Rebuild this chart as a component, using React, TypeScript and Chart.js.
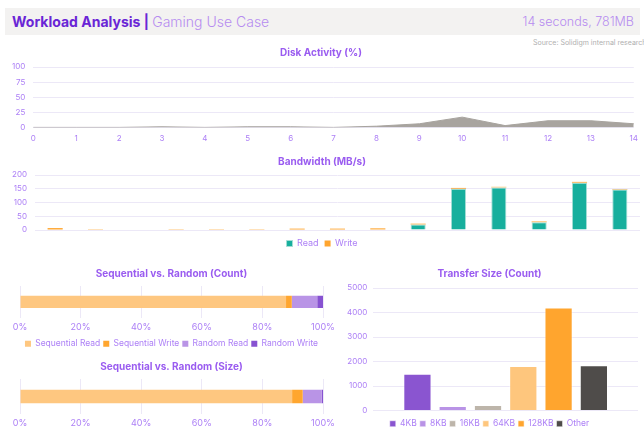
import React, { useEffect, useRef } from 'react';
import { Chart, registerables } from 'chart.js';
Chart.register(...registerables);

const FONT = 'Inter, "Noto Sans", sans-serif';
const TICK = '#ad80f6';
const TITLE = '#9a5cf0';
const GRID = '#ece8f7';

const seconds = ['0', '1', '2', '3', '4', '5', '6', '7', '8', '9', '10', '11', '12', '13', '14'];
const diskActivity = [0, 0, 0, 1, 0, 1, 1, 0, 2, 6, 17, 3, 11, 11, 6];
const bwRead = [0, 0, 0, 0, 0, 0, 0, 0, 2, 20, 150, 155, 28, 172, 147];
const bwWrite = [7, 3, 0, 3, 3, 3, 5, 5, 4, 3, 3, 2, 3, 3, 2];
const seqLabels = ['Sequential Read', 'Sequential Write', 'Random Read', 'Random Write'];
const seqCount = [87.8, 1.9, 8.4, 1.9];
const seqSize = [89.8, 3.5, 6.3, 0.4];
const seqColors = ['#fec780', '#ffa62f', '#b994e6', '#8752d1'];
const sizeLabels = ['4KB', '8KB', '16KB', '64KB', '128KB', 'Other'];
const sizeCounts = [1500, 180, 220, 1820, 4200, 1850];
const sizeColors = ['#8a55d0', '#b993e6', '#bdb5aa', '#fec67d', '#ffa52e', '#4f4c4a'];

const tickFont = { family: FONT, size: 8 };
const titleFont = { family: FONT, size: 10, weight: 'bold' as const };

function ChartBox({ left, top, width, height, make }: any) {
  const ref = useRef<HTMLCanvasElement>(null);
  useEffect(() => {
    const c = new Chart(ref.current as HTMLCanvasElement, make());
    return () => c.destroy();
  }, []);
  return (
    <div style={{ position: 'absolute', left, top, width, height }}>
      <canvas ref={ref} width={width} height={height} style={{ display: 'block' }} />
    </div>
  );
}

const baseOpts = (title: string, legend: boolean, padding: any, titlePad: number, legendFont = 9, legendPad = 6) => ({
  responsive: false,
  animation: false,
  devicePixelRatio: 1,
  layout: { padding },
  plugins: {
    tooltip: { enabled: false },
    legend: {
      display: legend, position: 'bottom',
      labels: { boxWidth: 6, boxHeight: 6, font: { family: FONT, size: legendFont }, color: TICK, padding: legendPad },
    },
    title: { display: true, text: title, color: TITLE, font: titleFont, padding: { top: 0, bottom: titlePad } },
  },
});

const diskConfig = (): any => ({
  type: 'line',
  data: {
    labels: seconds,
    datasets: [{
      data: diskActivity, fill: 'origin', backgroundColor: '#a8a49f', borderColor: '#a8a49f',
      borderWidth: 1, pointRadius: 0, tension: 0,
    }],
  },
  options: {
    ...baseOpts('Disk Activity (%)', false, { left: 4, right: 6, top: 2, bottom: 0 }, 8),
    scales: {
      x: { grid: { display: false, drawTicks: false }, border: { display: false },
        ticks: { color: TICK, font: tickFont, padding: 6, maxRotation: 0, autoSkip: false } },
      y: { min: 0, max: 100, grid: { color: GRID, drawTicks: false }, border: { display: false },
        ticks: { stepSize: 25, color: TICK, font: tickFont, padding: 8 } },
    },
  },
});

const bwConfig = (): any => ({
  type: 'bar',
  data: {
    labels: seconds,
    datasets: [
      { label: 'Read', data: bwRead, backgroundColor: '#17af9d', borderColor: '#a5ded5', borderWidth: 1, barPercentage: 0.5, categoryPercentage: 0.75 },
      { label: 'Write', data: bwWrite, backgroundColor: '#ffa52e', borderWidth: 0, barPercentage: 0.5, categoryPercentage: 0.75 },
    ],
  },
  options: {
    ...baseOpts('Bandwidth (MB/s)', true, { left: 4, right: 4, top: 2, bottom: 0 }, 7),
    scales: {
      x: { stacked: true, grid: { display: false, drawTicks: false }, border: { display: false }, ticks: { display: false },
        afterFit: (s: any) => { s.height = 3; } },
      y: { stacked: true, min: 0, max: 200, grid: { color: GRID, drawTicks: false }, border: { display: false },
        ticks: { stepSize: 50, color: TICK, font: tickFont, padding: 8 } },
    },
  },
});

const seqConfig = (title: string, values: number[], legend: boolean) => (): any => ({
  type: 'bar',
  data: {
    labels: [''],
    datasets: seqLabels.map((l, i) => ({
      label: l, data: [values[i]], backgroundColor: seqColors[i], borderWidth: 0,
      barPercentage: 0.45, categoryPercentage: 0.85,
    })),
  },
  options: {
    ...baseOpts(title, legend, { left: 20, right: 17, top: 2, bottom: 0 }, 6, 8.5, 3),
    indexAxis: 'y',
    scales: {
      x: { stacked: true, min: 0, max: 100, grid: { color: GRID, drawTicks: false }, border: { display: false },
        ticks: { stepSize: 20, color: TICK, font: { family: FONT, size: 9 }, padding: 4, callback: (v: any) => v + '%' } },
      y: { stacked: true, display: false },
    },
  },
});

const sizeConfig = (): any => ({
  type: 'bar',
  data: {
    labels: [''],
    datasets: sizeLabels.map((l, i) => ({
      label: l, data: [sizeCounts[i]], backgroundColor: sizeColors[i], borderColor: 'rgba(255,255,255,0.5)', borderWidth: 1,
      barPercentage: 0.8, categoryPercentage: 0.8,
    })),
  },
  options: {
    ...baseOpts('Transfer Size (Count)', true, { left: 11, right: 6, top: 2, bottom: 0 }, 8, 8.5, 3),
    scales: {
      x: { grid: { display: false, drawTicks: false }, border: { display: false }, ticks: { display: false },
        afterFit: (s: any) => { s.height = 6; } },
      y: { min: 0, max: 5000, grid: { color: GRID, drawTicks: false }, border: { display: false },
        ticks: { stepSize: 1000, color: TICK, font: tickFont, padding: 6, callback: (v: any) => String(v) } },
    },
  },
});

export default function App() {
  return (
    <div style={{ position: 'absolute', left: 0, top: 0, width: 644, height: 435, overflow: 'hidden', background: '#fff', fontFamily: FONT }}>
      <div style={{ position: 'absolute', left: 5, top: 8, width: 635, height: 27, background: '#f3f2f1' }} />
      <div style={{ position: 'absolute', left: 12, top: 13, fontSize: 14, lineHeight: '18px', whiteSpace: 'nowrap' }}>
        <span style={{ color: '#6a25d6', fontWeight: 700 }}>Workload Analysis | </span>
        <span style={{ color: '#b68cf0', fontWeight: 300 }}>Gaming Use Case</span>
      </div>
      <div style={{ position: 'absolute', right: 10, top: 13, fontSize: 12.5, lineHeight: '18px', color: '#b68cf0', fontWeight: 300, whiteSpace: 'nowrap' }}>
        14 seconds, 781MB
      </div>
      <div style={{ position: 'absolute', left: 533, top: 39, fontSize: 7, lineHeight: '8px', color: '#b0b0b0', whiteSpace: 'nowrap' }}>
        Source: Solidigm internal research
      </div>
      <ChartBox left={0} top={45} width={644} height={104} make={diskConfig} />
      <ChartBox left={0} top={154} width={644} height={104} make={bwConfig} />
      <ChartBox left={0} top={266} width={340} height={92} make={seqConfig('Sequential vs. Random (Count)', seqCount, true)} />
      <ChartBox left={0} top={359} width={340} height={74} make={seqConfig('Sequential vs. Random (Size)', seqSize, false)} />
      <ChartBox left={330} top={266} width={314} height={172} make={sizeConfig} />
    </div>
  );
}
